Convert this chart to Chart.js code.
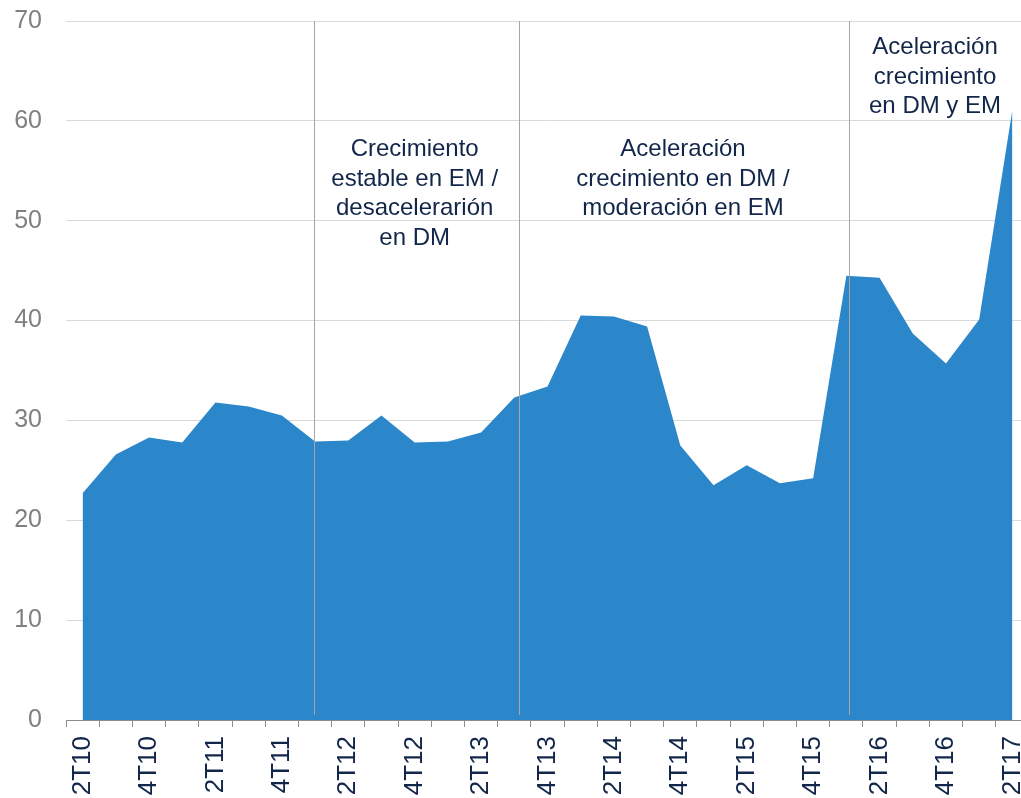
<!DOCTYPE html>
<html>
<head>
<meta charset="utf-8">
<script src="https://cdn.jsdelivr.net/npm/chart.js@4.4.1/dist/chart.umd.min.js"></script>
<style>
  html, body { margin: 0; padding: 0; background: #fff; overflow: hidden; }
  #wrap { position: relative; width: 1035px; height: 798px; }
</style>
</head>
<body>
<div id="wrap"><canvas id="chart"></canvas></div>
<script>
const quarters = [
  '2T10', '3T10', '4T10', '1T11', '2T11', '3T11', '4T11', '1T12', '2T12', '3T12',
  '4T12', '1T13', '2T13', '3T13', '4T13', '1T14', '2T14', '3T14', '4T14', '1T15',
  '2T15', '3T15', '4T15', '1T16', '2T16', '3T16', '4T16', '1T17', '2T17'
];
const values = [
  22.7, 26.6, 28.3, 27.8, 31.8, 31.4, 30.5, 27.9, 28.0, 30.5,
  27.8, 27.9, 28.8, 32.3, 33.4, 40.5, 40.4, 39.4, 27.5, 23.5,
  25.5, 23.7, 24.2, 44.5, 44.3, 38.7, 35.7, 40.1, 61.1
];
const yTicks = [0, 10, 20, 30, 40, 50, 60, 70];

// separadores de fases (posicion en indice de trimestre)
const dividers = [6.97, 13.15, 23.08];

// textos de cada fase: indice central, valor y de la primera linea
const phaseLabels = [
  { x: 10.0, y: 57.1, lines: ['Crecimiento', 'estable en EM /', 'desacelerarión', 'en DM'] },
  { x: 18.08, y: 57.1, lines: ['Aceleración', 'crecimiento en DM /', 'moderación en EM'] },
  { x: 25.67, y: 67.35, lines: ['Aceleración', 'crecimiento', 'en DM y EM'] }
];

const FONT = '"Liberation Sans", Arial, sans-serif';
const NAVY = '#12264a';

const phasePlugin = {
  id: 'phases',
  afterDatasetsDraw(chart) {
    const { ctx, chartArea, scales } = chart;
    ctx.save();
    ctx.strokeStyle = '#a6a6a6';
    ctx.lineWidth = 1;
    dividers.forEach(d => {
      const x = Math.round(scales.x.getPixelForValue(d)) + 0.5;
      ctx.beginPath();
      ctx.moveTo(x, chartArea.top);
      ctx.lineTo(x, chartArea.bottom - 5);
      ctx.stroke();
    });
    ctx.fillStyle = NAVY;
    ctx.font = '24px ' + FONT;
    ctx.textAlign = 'center';
    ctx.textBaseline = 'middle';
    phaseLabels.forEach(p => {
      const x = scales.x.getPixelForValue(p.x);
      const y0 = scales.y.getPixelForValue(p.y);
      p.lines.forEach((line, i) => ctx.fillText(line, x, y0 + i * 29.5));
    });
    ctx.restore();
  }
};

new Chart(document.getElementById('chart').getContext('2d'), {
  type: 'line',
  data: {
    labels: quarters,
    datasets: [{
      data: values,
      backgroundColor: '#2b87ca',
      borderColor: '#2b87ca',
      borderWidth: 0,
      fill: 'origin',
      pointRadius: 0,
      tension: 0
    }]
  },
  options: {
    responsive: true,
    maintainAspectRatio: false,
    animation: false,
    layout: { padding: { left: 13, top: 21, right: 6, bottom: 3 } },
    plugins: {
      legend: { display: false },
      tooltip: { enabled: false }
    },
    scales: {
      x: {
        offset: true,
        grid: {
          offset: true,
          drawOnChartArea: false,
          drawTicks: true,
          tickLength: 7,
          color: '#8c8c8c'
        },
        border: { display: true, color: '#8c8c8c' },
        ticks: {
          autoSkip: false,
          minRotation: 90,
          maxRotation: 90,
          padding: 9,
          color: NAVY,
          font: { family: FONT, size: 26 },
          callback: (v, i) => (i % 2 === 0 ? quarters[i] : '')
        },
        afterFit: s => {
          s.height = 75;
          s.paddingLeft = 0;
          s.paddingRight = 0;
        }
      },
      y: {
        min: 0,
        max: 70,
        afterBuildTicks: axis => { axis.ticks = yTicks.map(v => ({ value: v })); },
        grid: { color: '#d9d9d9', drawTicks: false },
        border: { display: false },
        ticks: {
          padding: 24,
          color: '#808080',
          font: { family: FONT, size: 25 }
        },
        afterFit: s => {
          s.width = 53;
          s.paddingTop = 0;
          s.paddingBottom = 0;
        }
      }
    }
  },
  plugins: [phasePlugin]
});
</script>
</body>
</html>
